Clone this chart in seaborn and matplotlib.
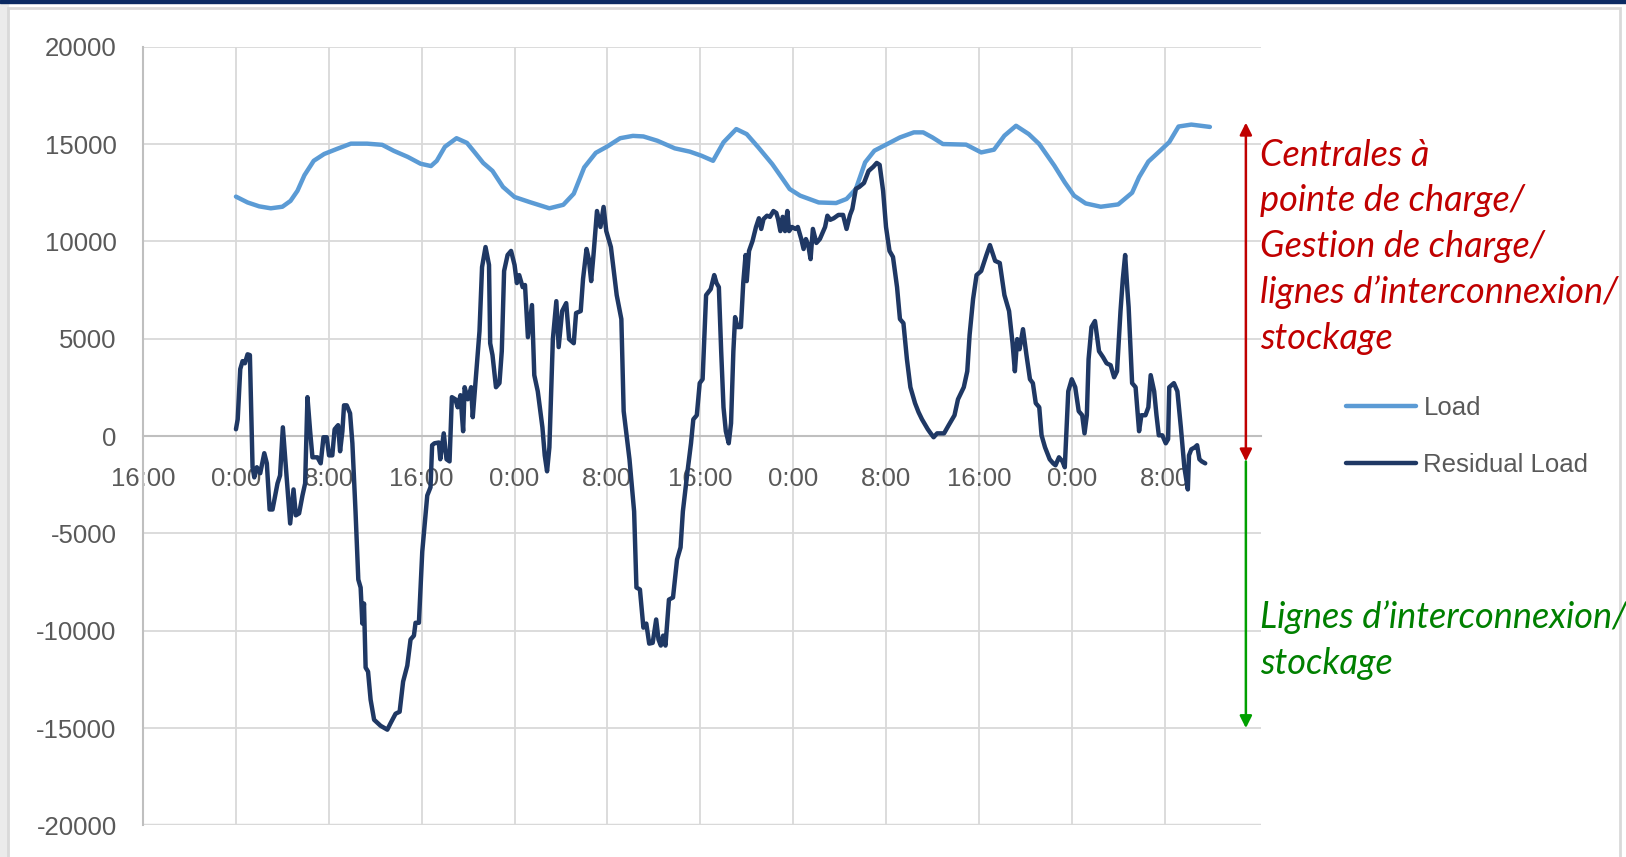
import matplotlib
matplotlib.use("Agg")
import matplotlib.pyplot as plt
from matplotlib.patches import Rectangle
import seaborn as sns

# hours counted from the first midnight shown on the axis
load_hours = [0, 1, 2, 3, 4, 4.7, 5.3, 5.9, 6.7, 7.6, 8.7, 9.9, 11.3, 12.6, 13.6, 14.8, 15.9, 16.8,
              17.3, 18, 19, 19.9, 20.6, 21.3, 22.1, 23, 24, 25.3, 27, 28.2, 29.1, 30, 31, 32, 33.1,
              34.2, 35.1, 36.3, 37.8, 39.1, 40.1, 41.1, 42, 43.1, 44, 45, 46.2, 47, 47.7, 48.6, 50.2,
              51.7, 52.6, 53.4, 54.2, 55, 56.1, 57.2, 58.4, 59.2, 60, 60.9, 62.9, 64.2, 65.3, 66.2,
              67.2, 68.3, 69.2, 70.5, 71.4, 72.2, 73.2, 74.5, 76, 77.2, 77.8, 78.6, 79.6, 80.4,
              81.2, 82.3, 83.9]
load_mw = [12300, 12000, 11800, 11700, 11780, 12080, 12600, 13400, 14140, 14490, 14750, 15020,
           15020, 14960, 14650, 14340, 13990, 13870, 14140, 14860, 15300, 15060, 14550, 14030,
           13620, 12800, 12280, 12020, 11700, 11880, 12450, 13800, 14550, 14880, 15300, 15420,
           15390, 15170, 14780, 14610, 14400, 14140, 15090, 15770, 15510, 14830, 13970, 13290,
           12690, 12350, 12000, 11970, 12180, 12690, 14060, 14660, 15000, 15340, 15600, 15600,
           15340, 15000, 14970, 14570, 14710, 15430, 15940, 15510, 15000, 13890, 13030, 12350,
           11950, 11780, 11900, 12500, 13300, 14100, 14650, 15100, 15900, 16000, 15880]

resid_hours = [0, 0.15, 0.37, 0.57, 0.77, 1.0, 1.2, 1.43, 1.58, 1.8, 2.09, 2.44, 2.66, 2.9, 3.15,
               3.58, 3.8, 4.04, 4.38, 4.67, 4.96, 5.16, 5.44, 5.73, 5.96, 6.16, 6.39, 6.59, 7.02,
               7.3, 7.54, 7.82, 8.02, 8.3, 8.5, 8.8, 8.97, 9.17, 9.31, 9.54, 9.83, 10.03, 10.3,
               10.54, 10.74, 10.89, 11.03, 11.17, 11.38, 11.6, 11.9, 12.46, 13.04, 13.3, 13.75,
               14.1, 14.4, 14.76, 15.04, 15.33, 15.47, 15.76, 16.05, 16.48, 16.76, 16.9, 17.1,
               17.48, 17.6, 17.9, 18.14, 18.4, 18.6, 18.9, 19.1, 19.34, 19.57, 19.7, 19.97, 20.26,
               20.4, 20.6, 20.98, 21.2, 21.5, 21.8, 21.9, 22.1, 22.4, 22.7, 22.9, 23.1, 23.4, 23.7,
               24.0, 24.2, 24.4, 24.7, 24.9, 25.15, 25.5, 25.7, 26.0, 26.4, 26.6, 26.8, 27.0, 27.3,
               27.6, 27.8, 28.1, 28.45, 28.7, 29.1, 29.3, 29.7, 29.9, 30.2, 30.4, 30.6, 30.8, 31.1,
               31.4, 31.67, 31.9, 32.3, 32.8, 33.2, 33.4, 33.9, 34.3, 34.5, 34.8, 35.1, 35.35, 35.6,
               35.9, 36.2, 36.4, 36.6, 36.8, 37.0, 37.3, 37.65, 38.0, 38.3, 38.5, 38.9, 39.2, 39.4,
               39.7, 39.95, 40.2, 40.5, 40.9, 41.2, 41.4, 41.6, 41.8, 42.0, 42.2, 42.45, 42.65,
               42.85, 43.0, 43.2, 43.5, 43.7, 43.9, 44.0, 44.2, 44.5, 44.8, 45.05, 45.25, 45.45,
               45.75, 46.0, 46.3, 46.55, 46.7, 46.9, 47.1, 47.3, 47.5, 47.65, 47.9, 48.2, 48.4,
               48.7, 48.9, 49.1, 49.3, 49.5, 49.7, 50.0, 50.3, 50.75, 50.95, 51.2, 51.5, 51.9,
               52.3, 52.6, 52.9, 53.1, 53.4, 53.7, 54.1, 54.5, 54.9, 55.2, 55.45, 55.75, 56.0,
               56.3, 56.6, 56.95, 57.2, 57.5, 57.8, 58.1, 58.5, 58.8, 59.1, 59.6, 59.85, 60.1,
               60.4, 61.0, 61.4, 61.9, 62.2, 62.7, 63.0, 63.2, 63.5, 63.8, 64.2, 64.65, 64.95,
               65.4, 65.8, 66.2, 66.6, 66.9, 67.1, 67.3, 67.5, 67.8, 68.1, 68.4, 68.65, 68.9,
               69.2, 69.4, 69.7, 70.1, 70.4, 70.6, 70.9, 71.2, 71.4, 71.7, 72.0, 72.3, 72.6, 72.9,
               73.1, 73.3, 73.45, 73.7, 74.0, 74.35, 74.7, 75.0, 75.35, 75.65, 75.9, 76.2, 76.4,
               76.6, 76.8, 76.9, 77.2, 77.5, 77.8, 78.0, 78.35, 78.6, 78.8, 79.1, 79.3, 79.5,
               79.8, 80.1, 80.3, 80.4, 80.8, 81.1, 81.4, 81.7, 82.0, 82.1, 82.3, 82.6, 82.8, 83.0,
               83.2, 83.5]
resid_mw = [350, 860, 3440, 3850, 3740, 4200, 4160, -1600, -2120, -1600, -1910, -880, -1400,
            -3770, -3770, -2430, -2020, 450, -2220, -4490, -2740, -4070, -3970, -3050, -2430,
            2000, 250, -1090, -1090, -1400, -60, -60, -990, -990, 350, 560, -780, 250, 1580,
            1580, 1170, -370, -3870, -7370, -7780, -9630, -8600, -11890, -12100, -13540, -14570,
            -14880, -15080, -14770, -14260, -14160, -12610, -11790, -10450, -10250, -9590, -9590,
            -5930, -3050, -2630, -470, -370, -330, -1190, 140, -1190, -1300, 2000, 1890, 1480,
            2100, 250, 2510, 1890, 2510, 970, 2510, 5390, 8680, 9710, 8790, 4770, 4160, 2510,
            2720, 4360, 8480, 9300, 9510, 8790, 7860, 8270, 7650, 7760, 5080, 6730, 3130, 2300,
            450, -990, -1810, -580, 4980, 6930, 4570, 6420, 6830, 4980, 4770, 6320, 6420, 8070,
            9610, 9090, 7960, 9300, 11560, 10740, 11770, 10530, 9710, 7240, 6010, 1280, -1190,
            -3870, -7780, -7880, -9840, -9630, -10660, -10620, -9420, -10450, -10760, -10250,
            -10760, -8400, -8290, -6340, -5720, -3870, -1810, -370, 860, 1070, 2720, 2920, 7240,
            7550, 8270, 7860, 7650, 4360, 1480, 250, -370, 660, 4360, 6110, 5600, 5600, 7860,
            9300, 7960, 9510, 10020, 10740, 11190, 10640, 11150, 11320, 11260, 11560, 11460,
            11150, 10530, 11260, 10530, 11560, 10530, 10740, 10640, 10740, 10120, 9610, 10120,
            9810, 9090, 10640, 9920, 10120, 10740, 11320, 11110, 11190, 11360, 11360, 10640,
            11360, 11670, 12700, 12800, 13000, 13620, 13830, 14030, 13930, 12590, 10740, 9510,
            9200, 7650, 6010, 5800, 3950, 2510, 1690, 1230, 860, 350, 140, -60, 140, 140, 560,
            1070, 1890, 2510, 3330, 5190, 7040, 8270, 8480, 9300, 9810, 9000, 8890, 7240, 6420,
            4770, 3330, 4980, 4460, 5490, 4160, 2920, 2720, 1690, 1480, 40, -580, -1190, -1400,
            -1500, -1090, -1300, -1600, 2300, 2920, 2510, 1280, 1070, 140, 1070, 3950, 5600,
            5910, 4360, 4050, 3740, 3640, 3020, 3330, 6420, 8070, 9300, 7450, 6630, 2720, 2510,
            250, 1070, 1070, 1480, 3130, 2300, 1070, 40, 40, -370, -160, 2510, 2720, 2300, 450,
            -1600, -2740, -990, -680, -580, -470, -1190, -1300, -1400]

x_ticks = list(range(-8, 81, 8))
y_ticks = list(range(-20000, 20001, 5000))

upper_text = "Centrales à\npointe de charge/\nGestion de charge/\nlignes d’interconnexion/\nstockage"
lower_text = "Lignes d’interconnexion/\nstockage"

sns.set_style("white")
plt.rcParams["font.family"] = ["Liberation Sans", "DejaVu Sans"]
plt.rcParams["axes.unicode_minus"] = False

fig = plt.figure(figsize=(16.26, 8.57), dpi=100)
ax = fig.add_axes([0.088, 0.0368, 0.6875, 0.9087])

sns.lineplot(x=load_hours, y=load_mw, ax=ax, color="#5B9BD5", lw=3.2, label="Load",
             estimator=None, zorder=3)
sns.lineplot(x=resid_hours, y=resid_mw, ax=ax, color="#1F3864", lw=3.2, label="Residual Load",
             estimator=None, zorder=3)

ax.set_xlim(-8, 88.3)
ax.set_ylim(-20000, 20000)
ax.set_xticks(x_ticks)
ax.set_xticklabels([f"{int(h % 24)}:00" for h in x_ticks])
ax.set_yticks(y_ticks)
ax.set_yticklabels([str(v) for v in y_ticks])
ax.set_axisbelow(True)
ax.grid(True, color="#D9D9D9", lw=1.3)
ax.axhline(-20000, color="#D9D9D9", lw=2.5, zorder=0.5)

for side in ["top", "right"]:
    ax.spines[side].set_visible(False)
ax.spines["left"].set_color("#BFBFBF")
ax.spines["left"].set_linewidth(1.5)
ax.spines["bottom"].set_position(("data", 0))
ax.spines["bottom"].set_color("#BFBFBF")
ax.spines["bottom"].set_linewidth(1.5)

ax.tick_params(length=0, labelsize=18.5, labelcolor="#595959")
ax.tick_params(axis="x", pad=22)
ax.tick_params(axis="y", pad=19)
ax.set_xlabel("")
ax.set_ylabel("")

ax.legend(loc="center left", bbox_to_anchor=(0.828, 0.4906), bbox_transform=fig.transFigure,
          frameon=False, fontsize=18.5, labelcolor="#595959", handlelength=2.7,
          handletextpad=0.3, labelspacing=1.3, borderpad=0, borderaxespad=0)

# arrows and side notes
ax.annotate("", xy=(87, 16100), xytext=(87, -1300),
            arrowprops=dict(arrowstyle="<|-|>", color="#C00000", lw=1.8,
                            shrinkA=0, shrinkB=0, mutation_scale=18))
ax.annotate("", xy=(87, -15000), xytext=(87, -1300),
            arrowprops=dict(arrowstyle="-|>", color="#00A000", lw=1.8,
                            shrinkA=0, shrinkB=0, mutation_scale=18))

fig.text(0.775, 0.712, upper_text, color="#C00000", fontsize=26, style="italic",
         family=["Lato", "DejaVu Sans"], va="center", ha="left", linespacing=1.46)
fig.text(0.775, 0.253, lower_text, color="#008000", fontsize=26, style="italic",
         family=["Lato", "DejaVu Sans"], va="center", ha="left", linespacing=1.46)

# frame around the chart
fig.patches.append(Rectangle((0, 0), 8 / 1626, 1, transform=fig.transFigure,
                             color="#EBEBEB", zorder=0))
fig.patches.append(Rectangle((8 / 1626, -0.05), 1612 / 1626, 1.05 - 8 / 857,
                             transform=fig.transFigure, fill=False, edgecolor="#D9D9D9",
                             lw=2, zorder=0))
fig.patches.append(Rectangle((0, 1 - 3 / 857), 1, 3 / 857, transform=fig.transFigure,
                             color="#0B2A63", zorder=1))

fig.savefig("out.png", dpi=100)
